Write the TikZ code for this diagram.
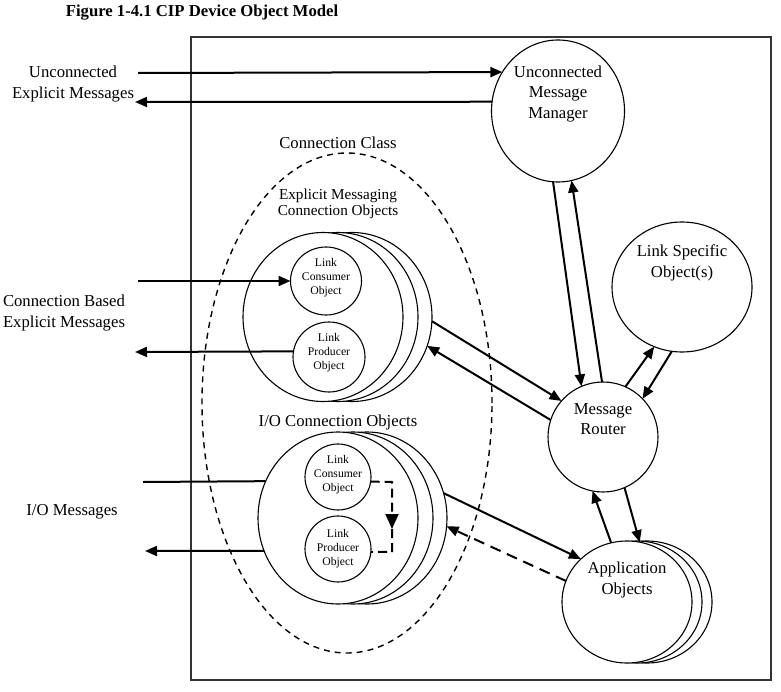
\documentclass[tikz,border=0pt]{standalone}
\usepackage{fontspec}
\setmainfont{Liberation Serif}
\usetikzlibrary{shapes.geometric,arrows.meta}
\tikzset{
  obj/.style={draw, ellipse, fill=white, line width=1.1pt, inner sep=0pt, outer sep=0pt},
  msg/.style={line width=2pt, -{Triangle[length=12pt,width=10pt]}},
  plainmsg/.style={line width=2pt},
  dmsg/.style={line width=2pt, dash pattern=on 11pt off 7pt},
  innerdash/.style={line width=2pt, dash pattern=on 9pt off 5pt},
  lbl/.style={font=\fontsize{16.7}{20.5}\selectfont, align=center, inner sep=0pt},
  midlbl/.style={font=\fontsize{15.2}{16.5}\selectfont, align=center, inner sep=0pt},
  small/.style={font=\fontsize{11.7}{14}\selectfont, align=center, inner sep=0pt},
  titlestyle/.style={font=\fontsize{16.7}{20}\selectfont\bfseries, inner sep=0pt},
}
\begin{document}
\begin{tikzpicture}[x=1pt,y=-1pt]
\useasboundingbox (0,0) rectangle (781,692);
% title and frame
\node[titlestyle] (title) at (202,13) {Figure 1-4.1 CIP Device Object Model};
\node[draw=black!80, line width=1.2pt, rectangle, minimum width=580pt, minimum height=643pt, inner sep=0pt, outer sep=0pt] (device) at (481,358.5) {};
% connection class
\node[draw, ellipse, line width=1.4pt, dash pattern=on 6pt off 5pt, minimum width=290pt, minimum height=500pt, inner sep=0pt] (cc) at (347,403) {};
\node[lbl] (cctext) at (338,143) {Connection Class};
\node[midlbl] (emtext) at (338,204) {Explicit Messaging\\Connection Objects};
\node[lbl] (iotext) at (338,422) {I/O Connection Objects};
% explicit messaging connection objects
\node[obj, minimum width=160pt, minimum height=169pt] (em3) at (352,317) {};
\node[obj, minimum width=160pt, minimum height=169pt] (em2) at (338,317) {};
\node[obj, minimum width=160pt, minimum height=169pt] (em1) at (323,317) {};
\node[obj, minimum width=71pt, minimum height=68pt] (emc) at (326,281) {};
\node[small] (emctext) at (326,278) {Link\\Consumer\\Object};
\node[obj, minimum width=72pt, minimum height=70pt] (emp) at (329,357) {};
\node[small] (emptext) at (329,353) {Link\\Producer\\Object};
% I/O connection objects
\node[obj, minimum width=160pt, minimum height=172pt] (io3) at (367,518) {};
\node[obj, minimum width=160pt, minimum height=172pt] (io2) at (353,518) {};
\node[obj, minimum width=160pt, minimum height=172pt] (io1) at (338,518) {};
\node[obj, minimum size=66pt] (ioc) at (338,477) {};
\node[small] (ioctext) at (338,475) {Link\\Consumer\\Object};
\node[obj, minimum size=66pt] (iop) at (338,549) {};
\node[small] (ioptext) at (338,549) {Link\\Producer\\Object};
% right side objects
\node[obj, minimum width=133pt, minimum height=142pt] (umm) at (558,111) {};
\node[lbl] (ummtext) at (558,94) {Unconnected\\Message\\Manager};
\node[obj, minimum width=140pt, minimum height=130pt] (ls) at (682,287) {};
\node[lbl] (lstext) at (682,263) {Link Specific\\Object(s)};
\node[obj, minimum size=110pt] (mr) at (603,437) {};
\node[lbl] (mrtext) at (603,419) {Message\\Router};
\node[obj, minimum width=130pt, minimum height=122pt] (app3) at (647,602) {};
\node[obj, minimum width=130pt, minimum height=122pt] (app2) at (637,602) {};
\node[obj, minimum width=130pt, minimum height=122pt] (app1) at (627,602) {};
\node[lbl] (apptext) at (627,580) {Application\\Objects};
% outside labels
\node[lbl] (uemtext) at (73,84) {Unconnected\\Explicit Messages};
\node[lbl] (cbemtext) at (64,313) {Connection Based\\Explicit Messages};
\node[lbl] (iomtext) at (72,512) {I/O Messages};
% outside message lines
\coordinate (uin) at (138,73);
\coordinate (uout) at (135,102);
\coordinate (cbin) at (138,281);
\coordinate (cbout) at (135,352);
\coordinate (ioin) at (143,482);
\coordinate (ioout) at (145,551);
\draw[msg] (uin) -- (umm.145.9);
\draw[msg] (umm.172.2) -- (uout);
\draw[msg] (cbin) -- (emc.180);
\draw[msg] (emp.171) -- (cbout);
\draw[plainmsg] (ioin) -- (io1.153.7);
\draw[msg] (io1.204.1) -- (ioout);
% internal I/O dashed path
\coordinate (dtop) at (392,482);
\coordinate (dtip) at (392,529);
\coordinate (dbot) at (392,552);
\draw[innerdash, -{Triangle[length=15pt,width=13pt]}] (ioc.-8.7) -- (dtop) -- (dtip);
\draw[innerdash] (dtip) -- (dbot) -- (iop.-5.2);
% connectors between objects
\draw[msg] (em3.-3.6) -- (mr.139.3);
\draw[msg] (mr.162.2) -- (em3.-21.8);
\draw[msg] (umm.266) -- (mr.113.2);
\draw[msg] (mr.91) -- (umm.281);
\draw[msg] (mr.66) -- (ls.245.8);
\draw[msg] (ls.261.3) -- (mr.44.3);
\draw[msg] (app1.105.8) -- (mr.259.9);
\draw[msg] (mr.-67.5) -- (app1.78.2);
\draw[msg] (io3.18.4) -- (app1.137.5);
\draw[dmsg, -{Triangle[length=12pt,width=10pt]}] (app1.161.3) -- (io3.-6.3);
\end{tikzpicture}
\end{document}
